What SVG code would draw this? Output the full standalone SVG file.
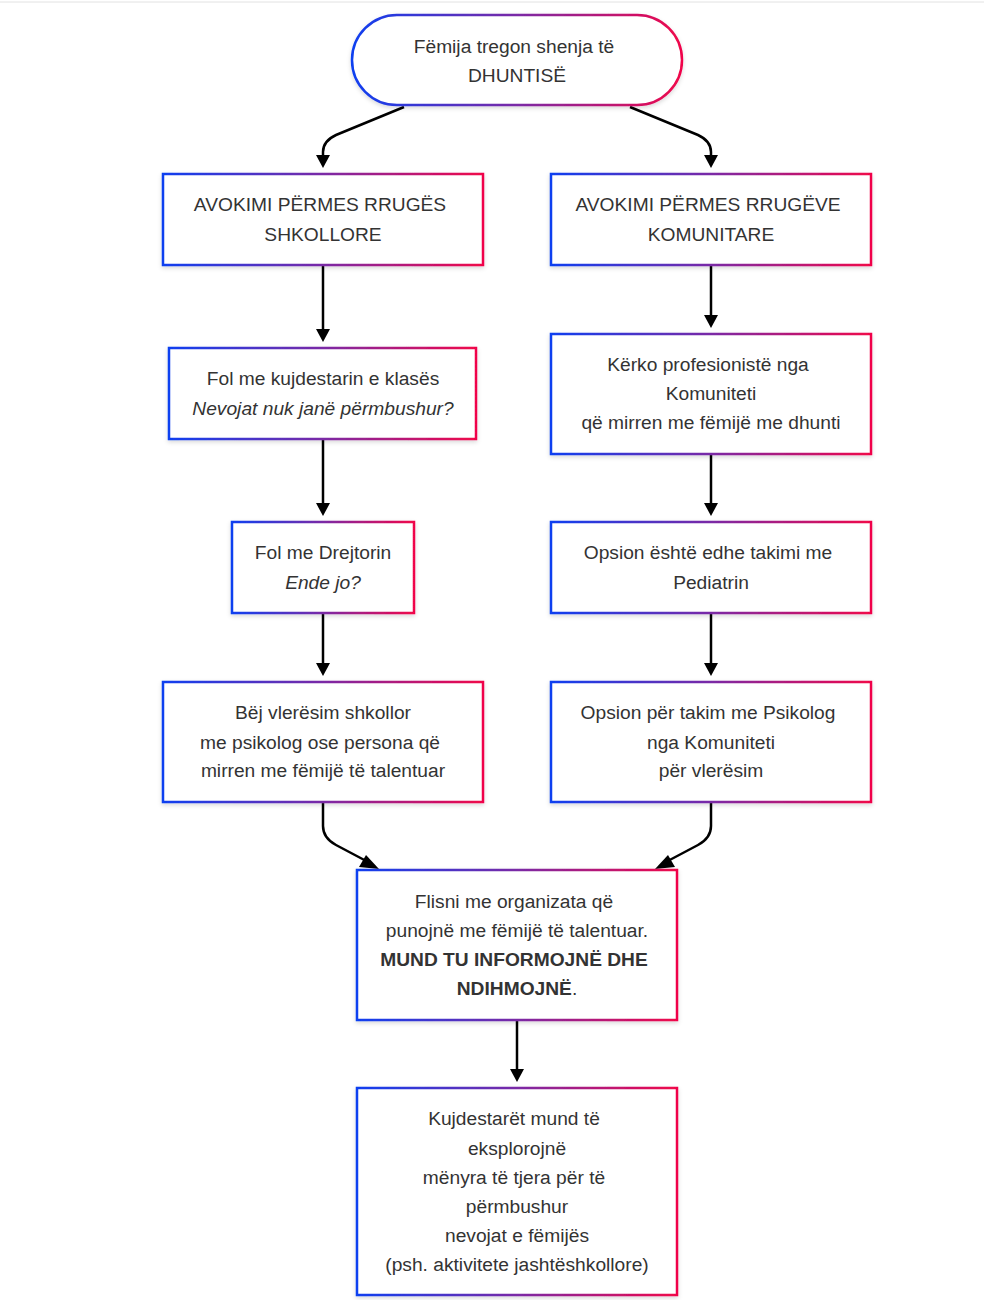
<svg xmlns="http://www.w3.org/2000/svg" width="984" height="1300" viewBox="0 0 984 1300">
<style>
.box{fill:#fff;stroke:url(#g);stroke-width:2.5;filter:url(#sh)}
.t{font-family:"Liberation Sans",Arial,sans-serif;font-size:19.2px;fill:#333;text-anchor:middle}
.i{font-style:italic}
.b{font-weight:bold}
.c{fill:none;stroke:#000;stroke-width:2.5}
</style>
<defs>
<linearGradient id="g" x1="0" y1="0" x2="1" y2="0">
<stop offset="0" stop-color="#0f3ff0"/>
<stop offset="0.5" stop-color="#7a2aa6"/>
<stop offset="1" stop-color="#f0064a"/>
</linearGradient>
<filter id="sh" x="-5%" y="-5%" width="110%" height="115%">
<feDropShadow dx="0" dy="2" stdDeviation="2" flood-color="#000" flood-opacity="0.15"/>
</filter>
</defs>
<rect width="984" height="1300" fill="#fff"/>
<line x1="0" y1="2" x2="984" y2="2" stroke="#e2e2e2" stroke-width="1"/>
<g id="connectors">
<path class="c" d="M404,107 L336,135 Q323,141 323,152 L323,156"/>
<path d="M316,155 L330,155 L323,168 z"/>
<path class="c" d="M630,107 L698,135 Q711,141 711,152 L711,156"/>
<path d="M704,155 L718,155 L711,168 z"/>
<line class="c" x1="323" y1="265" x2="323" y2="330"/>
<path d="M316,329 L330,329 L323,342 z"/>
<line class="c" x1="323" y1="439" x2="323" y2="504"/>
<path d="M316,503 L330,503 L323,516 z"/>
<line class="c" x1="323" y1="613" x2="323" y2="664"/>
<path d="M316,663 L330,663 L323,676 z"/>
<line class="c" x1="711" y1="265" x2="711" y2="316"/>
<path d="M704,315 L718,315 L711,328 z"/>
<line class="c" x1="711" y1="454" x2="711" y2="504"/>
<path d="M704,503 L718,503 L711,516 z"/>
<line class="c" x1="711" y1="613" x2="711" y2="664"/>
<path d="M704,663 L718,663 L711,676 z"/>
<path class="c" d="M323,802 L323,826 Q323,838 336,845 L370,863"/>
<path d="M366,855 L379,869 L359,867 z"/>
<path class="c" d="M711,802 L711,826 Q711,838 698,845 L664,863"/>
<path d="M668,855 L655,869 L675,867 z"/>
<line class="c" x1="517" y1="1020" x2="517" y2="1070"/>
<path d="M510,1069 L524,1069 L517,1082 z"/>
</g>
<g id="start">
<rect class="box" x="352" y="15" width="330" height="90" rx="45" ry="45"/>
<text class="t" x="514" y="53">Fëmija tregon shenja të</text>
<text class="t" x="517" y="82">DHUNTISË</text>
</g>
<g id="school">
<rect class="box" x="163" y="174" width="320" height="91"/>
<text class="t" x="320" y="211">AVOKIMI PËRMES RRUGËS</text>
<text class="t" x="323" y="241">SHKOLLORE</text>
</g>
<g id="community">
<rect class="box" x="551" y="174" width="320" height="91"/>
<text class="t" x="708" y="211">AVOKIMI PËRMES RRUGËVE</text>
<text class="t" x="711" y="241">KOMUNITARE</text>
</g>
<g id="teacher">
<rect class="box" x="169" y="348" width="307" height="91"/>
<text class="t" x="323" y="385">Fol me kujdestarin e klasës</text>
<text class="t i" x="323" y="415">Nevojat nuk janë përmbushur?</text>
</g>
<g id="professionals">
<rect class="box" x="551" y="334" width="320" height="120"/>
<text class="t" x="708" y="371">Kërko profesionistë nga</text>
<text class="t" x="711" y="400">Komuniteti</text>
<text class="t" x="711" y="429">që mirren me fëmijë me dhunti</text>
</g>
<g id="director">
<rect class="box" x="232" y="522" width="182" height="91"/>
<text class="t" x="323" y="559">Fol me Drejtorin</text>
<text class="t i" x="323" y="589">Ende jo?</text>
</g>
<g id="pediatrician">
<rect class="box" x="551" y="522" width="320" height="91"/>
<text class="t" x="708" y="559">Opsion është edhe takimi me</text>
<text class="t" x="711" y="589">Pediatrin</text>
</g>
<g id="assessment">
<rect class="box" x="163" y="682" width="320" height="120"/>
<text class="t" x="323" y="719">Bëj vlerësim shkollor</text>
<text class="t" x="320" y="749">me psikolog ose persona që</text>
<text class="t" x="323" y="777">mirren me fëmijë të talentuar</text>
</g>
<g id="psychologist">
<rect class="box" x="551" y="682" width="320" height="120"/>
<text class="t" x="708" y="719">Opsion për takim me Psikolog</text>
<text class="t" x="711" y="749">nga Komuniteti</text>
<text class="t" x="711" y="777">për vlerësim</text>
</g>
<g id="organizations">
<rect class="box" x="357" y="870" width="320" height="150"/>
<text class="t" x="514" y="908">Flisni me organizata që</text>
<text class="t" x="517" y="937">punojnë me fëmijë të talentuar.</text>
<text class="t" x="514" y="966"><tspan class="b">MUND TU INFORMOJNË DHE</tspan></text>
<text class="t" x="517" y="995"><tspan class="b">NDIHMOJNË</tspan>.</text>
</g>
<g id="caregivers">
<rect class="box" x="357" y="1088" width="320" height="207"/>
<text class="t" x="514" y="1125">Kujdestarët mund të</text>
<text class="t" x="517" y="1155">eksplorojnë</text>
<text class="t" x="514" y="1184">mënyra të tjera për të</text>
<text class="t" x="517" y="1213">përmbushur</text>
<text class="t" x="517" y="1242">nevojat e fëmijës</text>
<text class="t" x="517" y="1271">(psh. aktivitete jashtëshkollore)</text>
</g>
</svg>
